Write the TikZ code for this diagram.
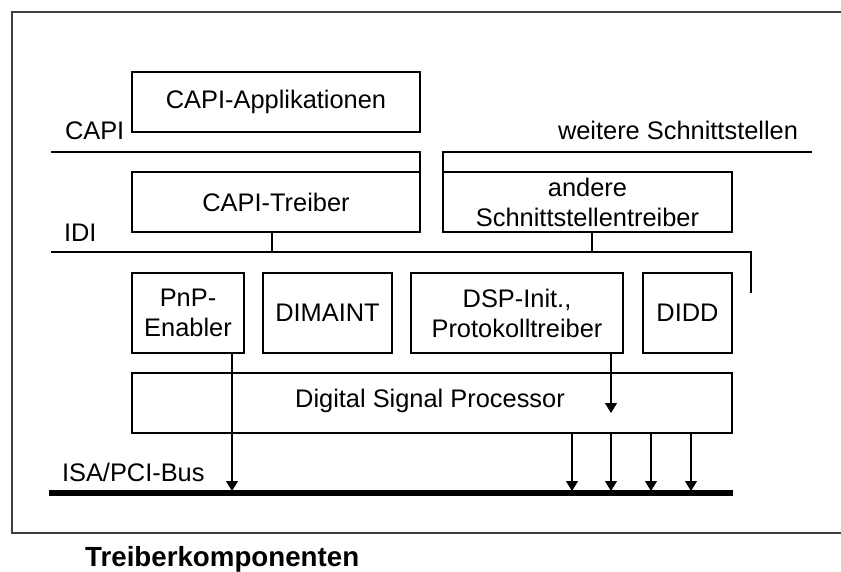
\documentclass[tikz,border=0pt]{standalone}
\usepackage{fontspec}
\setmainfont{Liberation Sans}
\usetikzlibrary{arrows.meta}
\begin{document}
\begin{tikzpicture}[x=1pt,y=-1pt,
  box/.style={draw, line width=1.1pt, inner sep=0pt, outer sep=0pt, anchor=north west, align=center,
    font=\fontsize{25.4}{30}\selectfont},
  lbl/.style={font=\fontsize{25.4}{30}\selectfont, inner sep=0pt, outer sep=0pt},
  wire/.style={line width=1.1pt},
  arr/.style={line width=1.1pt, -{Triangle[width=12pt,length=10pt]}},
  frame/.style={line width=1.3pt, black!75},
  bus/.style={line width=5.5pt}
]
\useasboundingbox (0,0) rectangle (841,572);
\fill[white] (0,0) rectangle (841,572);

% outer frame
\coordinate (fTR) at (841,12);
\coordinate (fTL) at (12,12);
\coordinate (fBL) at (12,533);
\coordinate (fBR) at (841,533);
\draw[frame] (fTR) -- (fTL) -- (fBL) -- (fBR);

% boxes
\node[box, minimum width=288pt, minimum height=60pt] (capiapp) at (132,72) {CAPI-Applikationen};
\node[box, minimum width=288pt, minimum height=60pt] (capitreiber) at (132,172) {CAPI-Treiber};
\node[box, minimum width=289pt, minimum height=60pt] (andere) at (443,172) {andere\\Schnittstellentreiber};
\node[box, minimum width=112pt, minimum height=80pt] (pnp) at (132,273) {PnP-\\Enabler};
\node[box, minimum width=129pt, minimum height=80pt] (dimaint) at (263,273) {DIMAINT};
\node[box, minimum width=212pt, minimum height=80pt] (dspinit) at (411,273) {DSP-Init.,\\Protokolltreiber};
\node[box, minimum width=89pt, minimum height=80pt] (didd) at (643,273) {DIDD};
\node[box, minimum width=600pt, minimum height=60pt] (dsp) at (132,373) {};
\node[lbl] (dsplabel) at (430,401) {Digital Signal Processor};

% interface lines
\coordinate (capiL) at (51,152);
\coordinate (capiR) at (capitreiber.north east |- capiL);
\draw[wire] (capiL) -- (capiR) -- (capitreiber.north east);
\coordinate (weiR) at (812,152);
\coordinate (weiL) at (andere.north west |- weiR);
\draw[wire] (weiR) -- (weiL) -- (andere.north west);
\coordinate (idiL) at (51,252);
\coordinate (idiR) at (751,252);
\coordinate (idiE) at (751,293);
\draw[wire] (idiL) -- (idiR) -- (idiE);
\draw[wire] ([xshift=-4pt]capitreiber.south) -- ([xshift=-4pt]capitreiber.south |- idiL);
\draw[wire] ([xshift=4.5pt]andere.south) -- ([xshift=4.5pt]andere.south |- idiL);

% labels
\node[lbl, anchor=base west] (capilbl) at (65,140) {CAPI};
\node[lbl, anchor=base west] (weilbl) at (558,140) {weitere Schnittstellen};
\node[lbl, anchor=base west] (idilbl) at (64,242) {IDI};
\node[lbl, anchor=base west] (isalbl) at (62,481) {ISA/PCI-Bus};
\node[font=\bfseries\fontsize{27.7}{32}\selectfont, inner sep=0pt, anchor=base west] (title) at (85,566) {Treiberkomponenten};

% bus
\coordinate (busL) at (49,493);
\coordinate (busR) at (733,493);
\coordinate (bustop) at (0,491);
\draw[bus] (busL) -- (busR);

% arrows
\coordinate (pnpout) at ([xshift=-12pt]pnp.south east);
\draw[arr] (pnpout) -- (pnpout |- bustop);
\coordinate (dspinout) at ([xshift=-12pt]dspinit.south east);
\coordinate (dspinlvl) at (0,413);
\draw[arr] (dspinout) -- (dspinout |- dspinlvl);
\foreach \xx/\nm in {572/a,611/b,651/c,691/d}{
  \coordinate (o\nm) at (\xx,433);
  \draw[arr] (o\nm) -- (o\nm |- bustop);
}
\end{tikzpicture}
\end{document}
